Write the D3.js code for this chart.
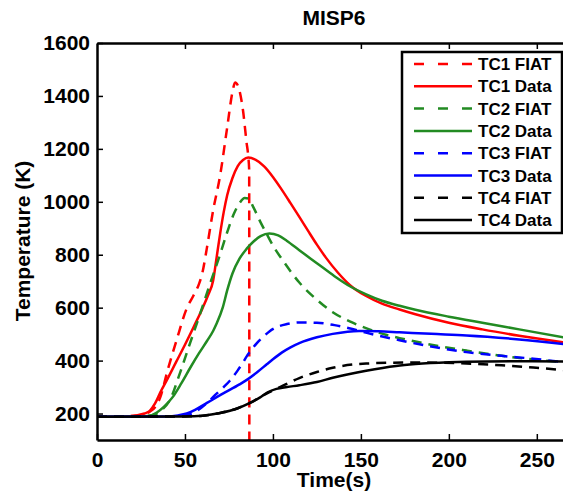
<!DOCTYPE html>
<html>
<head>
<meta charset="utf-8">
<script src="https://cdn.jsdelivr.net/npm/d3@7"></script>
<style>
  body { margin: 0; background: #fff; }
  svg text { font-family: "Liberation Sans", Arial, sans-serif; font-weight: bold; }
</style>
</head>
<body>
<svg width="563" height="496"></svg>
<script>
// [time (s), temperature (K)]
const tc1Fiat = [[0,188],[15,189],[22,192],[27,198],[30,207],[33,224],[36,262],[40,360],[45,472],[51,597],[55,648],[58,690],[60,735],[62.5,827],[66,967],[70,1100],[74,1281],[77,1415],[78.5,1451],[80,1440],[83,1345],[85,1225],[86,1170],[86.5,1120],[86.6,0]];
const tc1Data = [[0,188],[15,189],[22,193],[27,200],[30,210],[33,238],[36,280],[40,330],[45,395],[50,460],[55,528],[60,598],[63,645],[66,702],[68,790],[70,880],[72,960],[74,1025],[77,1090],[80,1135],[83,1158],[86,1167],[90,1159],[95,1134],[100,1094],[105,1046],[110,995],[115,943],[120,890],[125,838],[130,790],[137,732],[144,684],[153,644],[162,615],[172,593],[181,575],[200,543],[219,518],[240,494],[265,469]];
const tc2Fiat = [[0,188],[25,189],[32,195],[37,215],[41.5,252],[47,350],[53,468],[58.5,575],[64,685],[70,802],[74,885],[77.5,950],[81,995],[84,1014],[86,1012],[89,978],[92.5,929],[96.5,878],[100,835],[106,775],[115,695],[125,630],[134,583],[144,547],[154,520],[163,500],[172,485],[190,460],[210,438],[236,413],[250,403],[265,394]];
const tc2Data = [[0,188],[25,189],[30,192],[34,204],[38,225],[43,262],[48,315],[53,373],[58,428],[62.5,474],[66,512],[68,540],[71.5,601],[74,665],[77,729],[81,785],[85,822],[89,850],[93,870],[98,880],[103,873],[108,852],[115,817],[125,768],[135,719],[144,680],[153,650],[162,626],[172,607],[181,592],[200,566],[219,543],[240,518],[265,488]];
const tc3Fiat = [[0,188],[40,189],[48,192],[54,200],[58.5,218],[63,243],[68,275],[72,300],[75.5,324],[80,363],[83,393],[85,415],[88,443],[91,467],[95,493],[98,510],[102,526],[108,538],[115,544],[125,543],[135,534],[144,521],[155,502],[172,477],[190,453],[210,432],[230,418],[248,407],[265,394]];
const tc3Data = [[0,188],[40,189],[46,193],[51,200],[56,215],[62.5,240],[71.5,275],[81,310],[86,331],[91,356],[96.5,386],[100,405],[105,430],[110,450],[115,466],[125,488],[134,501],[149,512],[160,511],[172,507],[190,501],[210,495],[240,480],[265,463]];
const tc4Fiat = [[0,188],[50,189],[60,192],[70,202],[80,220],[87,240],[92.5,261],[98,281],[104,300],[115,334],[125,357],[134,373],[153,389],[181,393],[210,389],[230,382],[248,374],[265,364]];
const tc4Data = [[0,188],[50,189],[60,192],[70,202],[80,220],[87,240],[92.5,260],[97,280],[102,293],[108,300],[115,307],[125,319],[134,335],[153,362],[170,380],[181,387],[200,394],[210,396],[240,398],[265,397]];

const names = ['TC1 FIAT','TC1 Data','TC2 FIAT','TC2 Data','TC3 FIAT','TC3 Data','TC4 FIAT','TC4 Data'];
const colors = ['#ff0000','#ff0000','#228b22','#228b22','#0000ff','#0000ff','#000000','#000000'];
const dashed = [true,false,true,false,true,false,true,false];
const allSeries = [tc1Fiat, tc1Data, tc2Fiat, tc2Data, tc3Fiat, tc3Data, tc4Fiat, tc4Data];

const xTicks = [0,50,100,150,200,250];
const yTicks = [200,400,600,800,1000,1200,1400,1600];

const plotLeft = 97, plotTop = 43, plotRight = 572, plotBottom = 440;

const svg = d3.select('svg');

const x = d3.scaleLinear().domain([0, 270]).range([plotLeft, plotRight]);
const y = d3.scaleLinear().domain([100, 1600]).range([plotBottom, plotTop]);

svg.append('defs').append('clipPath').attr('id', 'plot')
  .append('rect')
    .attr('x', plotLeft).attr('y', plotTop)
    .attr('width', plotRight - plotLeft).attr('height', plotBottom - plotTop);

const line = d3.line()
  .x(d => x(d[0]))
  .y(d => y(d[1]))
  .curve(d3.curveMonotoneX);

const curves = svg.append('g').attr('clip-path', 'url(#plot)');
allSeries.forEach((s, i) => {
  curves.append('path')
    .datum(s)
    .attr('d', line)
    .attr('fill', 'none')
    .attr('stroke', colors[i])
    .attr('stroke-width', 2.5)
    .attr('stroke-dasharray', dashed[i] ? '10,7' : null);
});

// axes, ticks pointing inward like matlab
const styleAxis = g => {
  g.select('.domain').attr('stroke', '#000').attr('stroke-width', 2.5);
  g.selectAll('.tick line').attr('stroke', '#000').attr('stroke-width', 1.5);
  g.selectAll('.tick text').attr('fill', '#000').style('font-size', '21px');
};

svg.append('g')
  .attr('transform', `translate(0,${plotBottom})`)
  .call(d3.axisBottom(x).tickValues(xTicks).tickFormat(d3.format('d'))
    .tickSizeInner(-6).tickSizeOuter(0).tickPadding(12))
  .call(styleAxis);

svg.append('g')
  .attr('transform', `translate(0,${plotTop})`)
  .call(d3.axisTop(x).tickValues(xTicks.slice(1)).tickSizeInner(-6).tickSizeOuter(0).tickFormat(''))
  .call(styleAxis);

svg.append('g')
  .attr('transform', `translate(${plotLeft},0)`)
  .call(d3.axisLeft(y).tickValues(yTicks).tickFormat(d3.format('d'))
    .tickSizeInner(-6).tickSizeOuter(0).tickPadding(7))
  .call(styleAxis);

svg.append('g')
  .attr('transform', `translate(${plotRight},0)`)
  .call(d3.axisRight(y).tickValues(yTicks).tickSizeInner(-6).tickSizeOuter(0).tickFormat(''))
  .call(styleAxis);

// title and labels
svg.append('text')
  .attr('x', 334).attr('y', 25)
  .attr('text-anchor', 'middle')
  .style('font-size', '21px')
  .text('MISP6');

svg.append('text')
  .attr('x', 334).attr('y', 487)
  .attr('text-anchor', 'middle')
  .style('font-size', '21px')
  .text('Time(s)');

svg.append('text')
  .attr('transform', 'translate(30,241) rotate(-90)')
  .attr('text-anchor', 'middle')
  .style('font-size', '21px')
  .text('Temperature (K)');

// legend
const legend = svg.append('g');
legend.append('rect')
  .attr('x', 402).attr('y', 52)
  .attr('width', 160).attr('height', 181)
  .attr('fill', '#fff')
  .attr('stroke', '#000')
  .attr('stroke-width', 2.5);

names.forEach((n, i) => {
  const ly = 64 + i * 22.3;
  legend.append('line')
    .attr('x1', 414).attr('x2', 472)
    .attr('y1', ly).attr('y2', ly)
    .attr('stroke', colors[i])
    .attr('stroke-width', 2.5)
    .attr('stroke-dasharray', dashed[i] ? '10,14' : null);
  legend.append('text')
    .attr('x', 478).attr('y', ly + 6)
    .style('font-size', '17px')
    .text(n);
});
</script>
</body>
</html>
